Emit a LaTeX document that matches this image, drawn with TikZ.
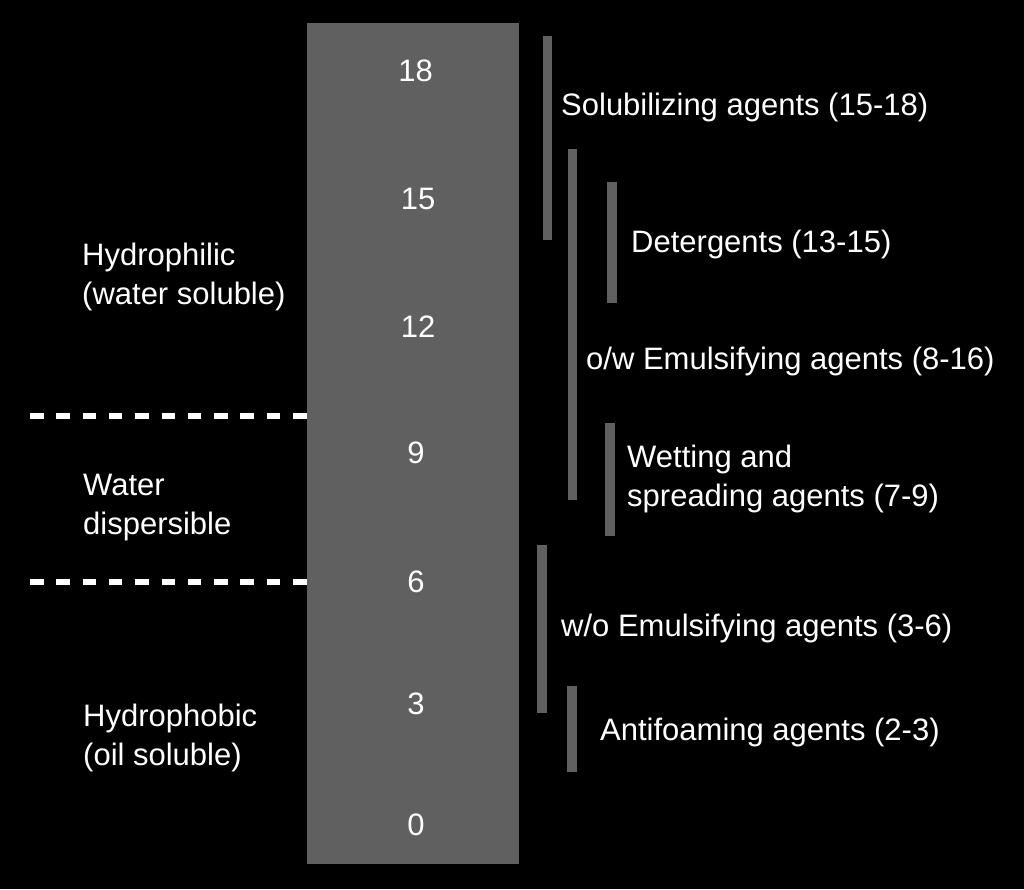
\documentclass[tikz,border=0pt]{standalone}
\usepackage{fontspec}
\setmainfont{Liberation Sans}
\definecolor{colgrey}{HTML}{606060}
\begin{document}
\begin{tikzpicture}[x=1pt,y=-1pt,
  lbl/.style={anchor=base west,inner sep=0pt,text=white,align=left,font=\fontsize{31}{39}\selectfont},
  num/.style={anchor=base,inner sep=0pt,text=white,font=\fontsize{31}{39}\selectfont},
  bar/.style={fill=colgrey},
  sep/.style={draw=white,line width=6pt,dash pattern=on 13.5pt off 12.8pt}]
\fill[black] (0,0) rectangle (1024,889);
\useasboundingbox (0,0) rectangle (1024,889);
% scale column
\fill[colgrey] (307,23) rectangle (519,864);
% separators
\coordinate (s1a) at (30,415.5);
\coordinate (s1b) at (307,415.5);
\coordinate (s2a) at (30,581.5);
\coordinate (s2b) at (307,581.5);
\draw[sep] (s1a) -- (s1b);
\draw[sep] (s2a) -- (s2b);
% numbers
\node[num] (n18) at (415.5,81) {18};
\node[num] (n15) at (418,209) {15};
\node[num] (n12) at (418,337) {12};
\node[num] (n9) at (416,463) {9};
\node[num] (n6) at (416,592) {6};
\node[num] (n3) at (416,714) {3};
\node[num] (n0) at (416,835) {0};
% left labels (base = last line)
\node[lbl] (hphil) at (82,304) {Hydrophilic\\(water soluble)};
\node[lbl] (wdisp) at (83,534) {Water\\dispersible};
\node[lbl] (hphob) at (83,765) {Hydrophobic\\(oil soluble)};
% range bars
\fill[bar] (542.5,36) rectangle (552,240);
\fill[bar] (568,149) rectangle (577,500);
\fill[bar] (607,182) rectangle (617,303);
\fill[bar] (605,423) rectangle (615,536);
\fill[bar] (537,545) rectangle (547,713);
\fill[bar] (567,686) rectangle (577,772);
% right labels
\node[lbl] (solub) at (561,115) {Solubilizing agents (15-18)};
\node[lbl] (deter) at (631,252) {Detergents (13-15)};
\node[lbl] (ow) at (586,369) {o/w Emulsifying agents (8-16)};
\node[lbl] (wett) at (627,506) {Wetting and\\spreading agents (7-9)};
\node[lbl] (wo) at (561,636) {w/o Emulsifying agents (3-6)};
\node[lbl] (antif) at (600,740) {Antifoaming agents (2-3)};
\end{tikzpicture}
\end{document}
